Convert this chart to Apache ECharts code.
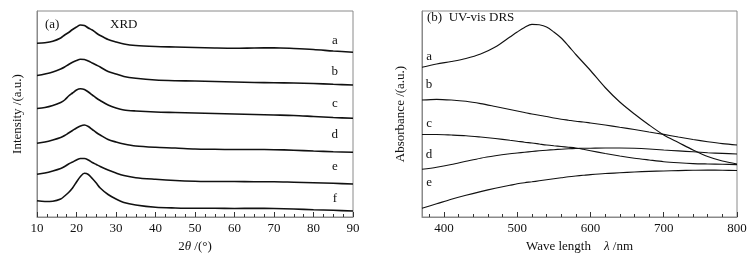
<!DOCTYPE html>
<html><head><meta charset="utf-8">
<script src="https://cdn.jsdelivr.net/npm/echarts@6/dist/echarts.min.js"></script>
<style>html,body{margin:0;padding:0;background:#fff}#c{width:754px;height:258px}</style>
</head><body><div id="c"></div>
<script>
// XRD (panel a): 2theta in degrees, intensity in arbitrary units (stacked offsets)
var xrdX = [10,12,14,16,17,18,19,20,21,22,23,24,25,26,28,30,32,35,40,45,50,55,60,65,70,75,80,85,90];
var xrdA = [173.7,174.3,175.7,179,182,184.5,187.5,190,192,191.5,189,187,184,181.5,177.5,175,173,171.5,170.5,170,169.5,169,168.7,169,169.2,168.5,167.5,166,164.7];
var xrdB = [141.5,143,145,148,150,152.5,154.7,156.5,157.7,157.5,156,154,152,150,145.5,143,140.5,138.7,137,136.3,136,135.5,135,134.5,134.3,134,133.5,132.7,132];
var xrdC = [108.5,109.5,111.5,114.5,117,121,124,127,128.2,127.5,125,122,119,116.5,112,109,107,106,105,104.5,104,103.5,103,102.5,102,101.5,100.5,99.5,98.7];
var xrdD = [73.7,75,77,79.5,81.5,84,86.5,89,91,92,90.5,87.5,84.5,82,77.5,75,73,71,69.7,69,68,67.7,67.5,67.5,67.3,66.8,66,65.3,64.7];
var xrdE = [42.7,44,46,48.5,50.5,53,55,57,58.5,58.5,57,54.5,52.5,50.5,47,44,41.5,39.3,37.7,36.5,35.8,35.5,35.5,35.3,35.3,34.8,34.3,33.7,33];
var xrdF = [16.3,15.5,15.8,18,21,24.5,29,35,40.5,43.7,42.5,38.5,34,29,22.5,18,14.5,12,9.7,9,8.7,8.7,8.5,8.7,8.5,8,7.3,6.7,6];
var xrdNames = ['a','b','c','d','e','f'];
var xrdLabelY = [176.3,145.3,113,82,50,18];
var xrdLabelX = 85.4;

// UV-vis DRS (panel b): wavelength in nm, absorbance in arbitrary units
var uvX = [370,390,410,430,450,470,490,500,510,520,530,540,550,560,570,580,590,600,620,640,660,680,700,720,740,760,780,800];
var uvA = [149.7,153,155.5,158.5,163,170,180,185,189.5,192.7,192.2,190,185,179,171,162.5,154.5,146.5,129.5,115,103,92,82,74.5,67,60.5,56,53];
var uvB = [117,117.7,117,115.7,113.4,110.5,107.5,106,104.5,103,101.7,100.5,99,97.8,96.8,95.8,95,94,92,89.7,87.5,85,82.6,80,77.5,75.3,73.4,72];
var uvC = [82.5,82.5,82,81.3,80,78.5,76.7,75.8,74.8,74,73,72,71.2,70.5,69.8,69,67.7,66.3,63.5,61,58.8,57,55.3,54.2,53.4,53,52.7,52.4];
var uvD = [47.7,49.8,52.5,55.7,58.8,61.2,63.2,64,64.8,65.5,66.2,66.8,67.3,67.8,68.2,68.5,68.7,68.8,69,69,68.7,68,67,66.1,65.2,64.3,63.6,63];
var uvE = [8.7,13.2,17.8,21.8,25.4,28.7,31.7,33.2,34.3,35.2,36.2,37.2,38.2,39.2,40.2,41,41.7,42.4,43.5,44.2,45,45.6,46,46.4,46.7,46.9,46.8,46.5];
var uvNames = ['a','b','c','d','e'];
var uvLabelY = [160.3,132,93.7,62.7,34.3];
var uvLabelX = 379.6;
var uvMajor = [400,500,600,700,800];
var uvMinor = [380,400,420,440,460,480,500,520,540,560,580,600,620,640,660,680,700,720,740,760,780,800];

var FONT = "'Liberation Serif','Times New Roman',serif";
var txt = {fontFamily: FONT, fontSize: 13, color: '#111'};

function zip(xs, ys){ return xs.map(function(x,i){return [x, ys[i]];}); }
function mkSeries(xs, ys, name, lx, ly, xi, yi, w){
  return {
    type:'line', name:name, xAxisIndex:xi, yAxisIndex:yi, data: zip(xs, ys),
    showSymbol:false, symbol:'none', smooth:0.3, animation:false,
    lineStyle:{color:'#111', width:w},
    markPoint:{symbol:'circle', symbolSize:0, silent:true, animation:false,
      data:[{coord:[lx, ly], label:{show:true, formatter:name, fontFamily:FONT, fontSize:13, color:'#111'}}]}
  };
}

var series = [];
[xrdA,xrdB,xrdC,xrdD,xrdE,xrdF].forEach(function(d,i){ series.push(mkSeries(xrdX,d,xrdNames[i],xrdLabelX,xrdLabelY[i],0,0,1.6)); });
[uvA,uvB,uvC,uvD,uvE].forEach(function(d,i){ series.push(mkSeries(uvX,d,uvNames[i],uvLabelX,uvLabelY[i],1,1,1.15)); });

var frame = '#8a8a8a';
var chart = echarts.init(document.getElementById('c'), null, {renderer:'canvas'});
chart.setOption({
  animation:false,
  grid:[
    {left:37, right:401, top:11, bottom:41, show:true, borderColor:frame, borderWidth:1},
    {left:422, right:17, top:11, bottom:41, show:true, borderColor:frame, borderWidth:1}
  ],
  xAxis:[
    {type:'value', gridIndex:0, min:10, max:90, interval:10,
     axisLine:{lineStyle:{color:frame}},
     axisTick:{inside:true, length:5, lineStyle:{color:'#333'}},
     minorTick:{show:true, splitNumber:4, length:3, lineStyle:{color:'#333'}},
     axisLabel:Object.assign({margin:5}, txt),
     splitLine:{show:false},
     name:'{r|2}{i|θ}{r| /(°)}', nameLocation:'middle', nameGap:22,
     nameTextStyle:{rich:{r:{fontFamily:FONT,fontSize:13,color:'#111'}, i:{fontFamily:FONT,fontSize:13,fontStyle:'italic',color:'#111'}}}},
    {type:'value', gridIndex:1, min:370, max:800,
     axisLine:{lineStyle:{color:frame}},
     axisTick:{inside:true, length:5, customValues:uvMajor, lineStyle:{color:'#333'}},
     axisLabel:Object.assign({margin:5, customValues:uvMajor}, txt),
     splitLine:{show:false},
     name:'{r|Wave length    }{i|λ}{r| /nm}', nameLocation:'middle', nameGap:22,
     nameTextStyle:{rich:{r:{fontFamily:FONT,fontSize:13,color:'#111'}, i:{fontFamily:FONT,fontSize:13,fontStyle:'italic',color:'#111'}}}},
    {type:'value', gridIndex:1, min:370, max:800, position:'bottom', offset:0,
     axisLine:{show:false},
     axisTick:{inside:true, length:3, customValues:uvMinor, lineStyle:{color:'#333'}},
     axisLabel:{show:false}, splitLine:{show:false}}
  ],
  yAxis:[
    {type:'value', gridIndex:0, min:0, max:206, axisLine:{show:true, lineStyle:{color:frame}},
     axisTick:{show:false}, axisLabel:{show:false}, splitLine:{show:false},
     name:'Intensity /(a.u.)', nameLocation:'middle', nameGap:13, nameTextStyle:txt},
    {type:'value', gridIndex:1, min:0, max:206, axisLine:{show:true, lineStyle:{color:frame}},
     axisTick:{show:false}, axisLabel:{show:false}, splitLine:{show:false},
     name:'Absorbance /(a.u.)', nameLocation:'middle', nameGap:15, nameTextStyle:txt}
  ],
  series: series,
  graphic:[
    {type:'text', left:45, top:18, style:{text:'(a)', font:'13px '+FONT, fill:'#111'}},
    {type:'text', left:110, top:18, style:{text:'XRD', font:'13px '+FONT, fill:'#111'}},
    {type:'text', left:427, top:11, style:{text:'(b)  UV-vis DRS', font:'13px '+FONT, fill:'#111'}}
  ]
});
</script></body></html>
